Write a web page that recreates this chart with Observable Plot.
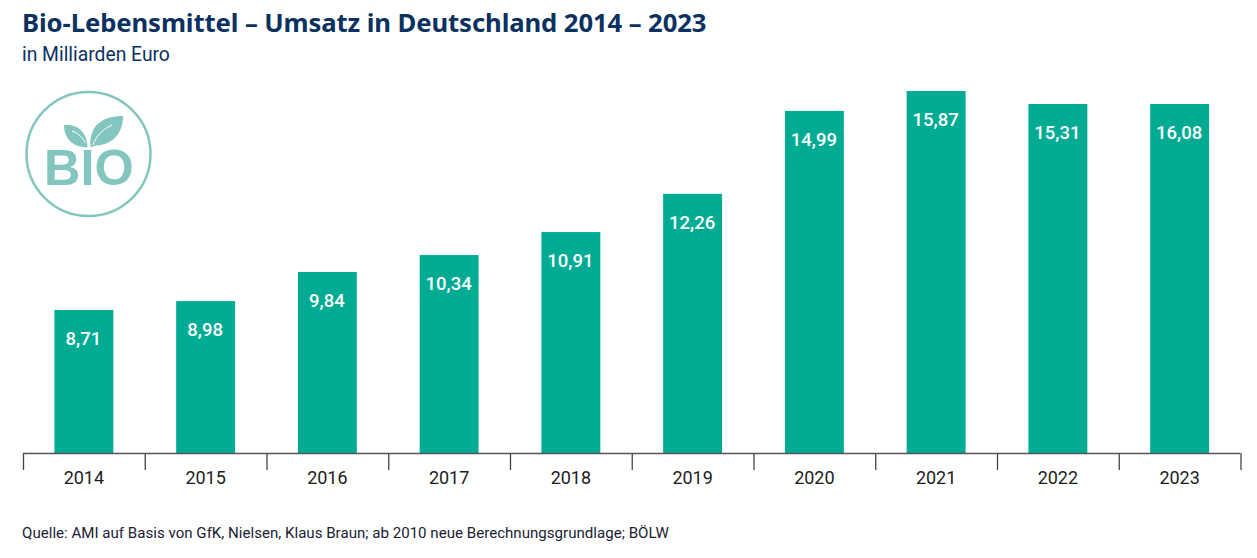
<!DOCTYPE html>
<html lang="de">
<head>
<meta charset="utf-8">
<script src="https://cdn.jsdelivr.net/npm/d3@7"></script>
<script src="https://cdn.jsdelivr.net/npm/@observablehq/plot@0.6"></script>
<style>
  html, body { margin: 0; background: #fff; }
  #page { position: relative; width: 1257px; height: 558px; overflow: hidden; }
  #title { position: absolute; left: 22px; top: 6px; font: 700 25.7px/34px "Noto Sans", sans-serif; color: #0b3160; white-space: nowrap; letter-spacing: -0.1px; }
  #subtitle { position: absolute; left: 22px; top: 43px; font: 400 19.3px/24px Roboto, sans-serif; color: #0b3160; white-space: nowrap; }
  #chart { position: absolute; left: 0; top: 70px; }
  #caption { position: absolute; left: 22px; top: 523px; font: 400 15.1px/20px Roboto, sans-serif; color: #1a2233; white-space: nowrap; }
  #logo { position: absolute; left: 0; top: 80px; }
</style>
</head>
<body>
<div id="page">
  <div id="title">Bio-Lebensmittel – Umsatz in Deutschland 2014 – 2023</div>
  <div id="subtitle">in Milliarden Euro</div>
  <div id="chart"></div>
  <svg id="logo" width="170" height="150" viewBox="0 80 170 150" aria-label="BIO">
    <circle cx="88.5" cy="154" r="62" fill="none" stroke="#83c6bf" stroke-width="2.5"/>
    <path d="M64 125C76 124 87 130 87.5 147.5C73 147 64 139 64 125Z" fill="#83c6bf"/>
    <path d="M123 116C104 116 89 124 90.5 147C92 147 94 146 96 145.5C110 145 123 136 123 116Z" fill="#83c6bf"/>
    <path d="M72 131C78 133 83 138 85.5 143" fill="none" stroke="#fff" stroke-width="1"/>
    <path d="M112 125C103 129 96 136 93 145" fill="none" stroke="#fff" stroke-width="1"/>
    <text x="89" y="185" text-anchor="middle" font-family="Liberation Sans" font-weight="700" font-size="50.5" fill="#83c6bf">BIO</text>
  </svg>
  <div id="caption">Quelle: AMI auf Basis von GfK, Nielsen, Klaus Braun; ab 2010 neue Berechnungsgrundlage; BÖLW</div>
</div>
<script>
const years = [2014, 2015, 2016, 2017, 2018, 2019, 2020, 2021, 2022, 2023];
// Printed labels
const labels = ["8,71", "8,98", "9,84", "10,34", "10,91", "12,26", "14,99", "15,87", "15,31", "16,08"];
// Bar lengths as drawn in the picture (they are not proportional to the printed labels)
const barLengths = [6.59, 7.0, 8.34, 9.12, 10.18, 11.94, 15.76, 16.68, 16.08, 16.08];
const boundaries = [2013.5, ...years.map(y => y + 0.5)];
const barHalf = 0.242;

const rows = years.map((year, i) => ({year, label: labels[i], value: barLengths[i]}));

const chart = Plot.plot({
  width: 1257,
  height: 430,
  marginTop: 0, marginRight: 17, marginBottom: 47, marginLeft: 23,
  style: {background: "transparent", fontFamily: "Roboto, sans-serif", overflow: "visible"},
  x: {domain: [2013.5, 2023.5], range: [23, 1240.5], axis: null},
  y: {domain: [0, 16.08], range: [383, 34], axis: null},
  marks: [
    Plot.rectY(rows, {x1: d => d.year - barHalf, x2: d => d.year + barHalf, y: "value", fill: "#00ab94"}),
    Plot.text(rows, {x: "year", y: "value", text: "label", dy: 29, dx: -1, fill: "#fff", fontSize: 18.5, fontWeight: 500}),
    Plot.axisX({ticks: boundaries, tickSize: 17, tickFormat: () => "", label: null, stroke: "#444", strokeWidth: 1.3, strokeOpacity: 1}),
    Plot.ruleY([0], {stroke: "#555", strokeWidth: 1.6}),
    Plot.axisX({ticks: years, tickSize: 0, tickPadding: 18, tickFormat: d => String(d), label: null, fontSize: 18, dx: -0.5, fill: "#1c1c1c"})
  ]
});
document.getElementById("chart").appendChild(chart);
</script>
</body>
</html>
